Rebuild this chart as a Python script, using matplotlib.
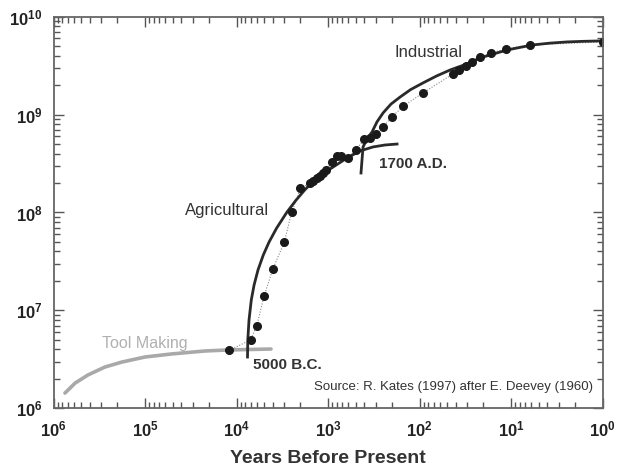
import numpy as np
import matplotlib
matplotlib.use('Agg')
import matplotlib.pyplot as plt
from matplotlib.ticker import FixedLocator, LogLocator, NullFormatter

# population estimates (years before present, people)
dot_years = [12000, 7000, 6000, 5000, 4000, 3000, 2500, 2000, 1570, 1460,
             1320, 1220, 1130, 1050, 900, 800, 720, 600, 500, 400, 350,
             300, 250, 200, 150, 92, 43, 37, 31, 27, 22, 16.6, 11.4, 6.2, 1.0]
dot_pop = [3.9e6, 5.0e6, 7.0e6, 1.4e7, 2.65e7, 5.0e7, 1.0e8, 1.76e8, 2.0e8,
           2.1e8, 2.25e8, 2.36e8, 2.53e8, 2.72e8, 3.28e8, 3.78e8, 3.78e8,
           3.6e8, 4.35e8, 5.6e8, 5.7e8, 6.3e8, 7.5e8, 9.5e8, 1.22e9, 1.66e9,
           2.6e9, 2.82e9, 3.13e9, 3.44e9, 3.87e9, 4.26e9, 4.68e9, 5.14e9, 5.52e9]

# fitted growth phases
tool_years = [7.5e5, 5.8e5, 4.2e5, 2.74e5, 1.78e5, 1.0e5, 5.1e4, 2.2e4, 1.24e4, 4200]
tool_pop = [1.43e6, 1.81e6, 2.19e6, 2.64e6, 2.97e6, 3.34e6, 3.59e6, 3.85e6, 3.94e6, 4.03e6]

agri_years = [7584, 7527, 7300, 6891, 6423, 5821, 5095, 4403, 3636, 2806,
              2231, 1793, 1515, 950, 620, 447, 322, 238, 176]
agri_pop = [3.34e6, 4.99e6, 7.98e6, 1.28e7, 1.82e7, 2.59e7, 3.68e7, 5.0e7,
            6.95e7, 1.01e8, 1.34e8, 1.70e8, 2.0e8, 2.78e8, 3.6e8, 4.25e8,
            4.67e8, 4.89e8, 5.0e8]

ind_years = [436, 425, 414, 375, 330, 292, 250, 205, 163, 125, 92, 65, 46,
             30, 21.8, 15, 11, 8, 5.8, 3.8, 2.44, 1.6, 1.06]
ind_pop = [2.53e8, 3.44e8, 4.67e8, 5.64e8, 6.64e8, 8.4e8, 1.04e9, 1.28e9,
           1.51e9, 1.8e9, 2.1e9, 2.48e9, 2.86e9, 3.3e9, 3.79e9, 4.2e9, 4.57e9,
           4.85e9, 5.14e9, 5.36e9, 5.52e9, 5.6e9, 5.65e9]

x_ticks = [1e6, 1e5, 1e4, 1e3, 1e2, 1e1, 1e0]
x_labels = [r'$\mathbf{10^{6}}$', r'$\mathbf{10^{5}}$', r'$\mathbf{10^{4}}$',
            r'$\mathbf{10^{3}}$', r'$\mathbf{10^{2}}$', r'$\mathbf{10^{1}}$',
            r'$\mathbf{10^{0}}$']
y_ticks = [1e6, 1e7, 1e8, 1e9, 1e10]
y_labels = [r'$\mathbf{10^{6}}$', r'$\mathbf{10^{7}}$', r'$\mathbf{10^{8}}$',
            r'$\mathbf{10^{9}}$', r'$\mathbf{10^{10}}$']


def main():
    plt.rcParams['font.family'] = ['Liberation Sans', 'DejaVu Sans']
    plt.rcParams['mathtext.fontset'] = 'custom'
    plt.rcParams['mathtext.bf'] = 'Liberation Sans:bold'
    plt.rcParams['mathtext.rm'] = 'Liberation Sans'

    fig = plt.figure(figsize=(6.23, 4.68), dpi=100)
    ax = fig.add_axes([0.0859, 0.1276, 0.8812, 0.8368])

    ax.plot(tool_years, tool_pop, color='#a9a9a9', lw=2.6,
            solid_capstyle='round', solid_joinstyle='round')
    ax.plot(dot_years, dot_pop, color='#888888', lw=0.8, ls=(0, (1, 1.5)))
    ax.plot(agri_years, agri_pop, color='#2a2a2a', lw=2.0, solid_joinstyle='round')
    ax.plot(ind_years, ind_pop, color='#2a2a2a', lw=2.0, solid_joinstyle='round')
    ax.plot(dot_years, dot_pop, 'o', color='#1a1a1a', ms=5.5, ls='none')

    ax.set_xscale('log')
    ax.set_yscale('log')
    ax.set_xlim(1e6, 1e0)
    ax.set_ylim(1e6, 1e10)

    ax.xaxis.set_major_locator(FixedLocator(x_ticks))
    ax.set_xticklabels(x_labels)
    ax.yaxis.set_major_locator(FixedLocator(y_ticks))
    ax.set_yticklabels(y_labels)
    for a in (ax.xaxis, ax.yaxis):
        a.set_minor_locator(LogLocator(base=10, subs=np.arange(2, 10)))
        a.set_minor_formatter(NullFormatter())

    ax.tick_params(which='both', direction='in', top=True, right=True,
                   color='#555555', width=1.0)
    ax.tick_params(which='major', length=7, labelsize=12, pad=8,
                   labelcolor='#222222')
    ax.tick_params(which='minor', length=4)
    for s in ax.spines.values():
        s.set_color('#666666')
        s.set_linewidth(1.3)

    ax.set_xlabel('Years Before Present', fontsize=14, fontweight='bold',
                  color='#333333', labelpad=8)

    ax.text(1.0e5, 4.64e6, 'Tool Making', fontsize=11.5, color='#b0b0b0',
            ha='center', va='center')
    ax.text(12700, 1.04e8, 'Agricultural', fontsize=12, color='#333333',
            ha='center', va='center')
    ax.text(80, 4.35e9, 'Industrial', fontsize=12, color='#333333',
            ha='center', va='center')
    ax.text(118, 3.13e8, '1700 A.D.', fontsize=11, fontweight='bold',
            color='#333333', ha='center', va='center')
    ax.text(2800, 2.77e6, '5000 B.C.', fontsize=11, fontweight='bold',
            color='#333333', ha='center', va='center')
    ax.text(0.983, 0.054, 'Source: R. Kates (1997) after E. Deevey (1960)',
            transform=ax.transAxes, fontsize=9.5, color='#333333',
            ha='right', va='center')

    fig.savefig('out.png', dpi=100)


if __name__ == '__main__':
    main()
